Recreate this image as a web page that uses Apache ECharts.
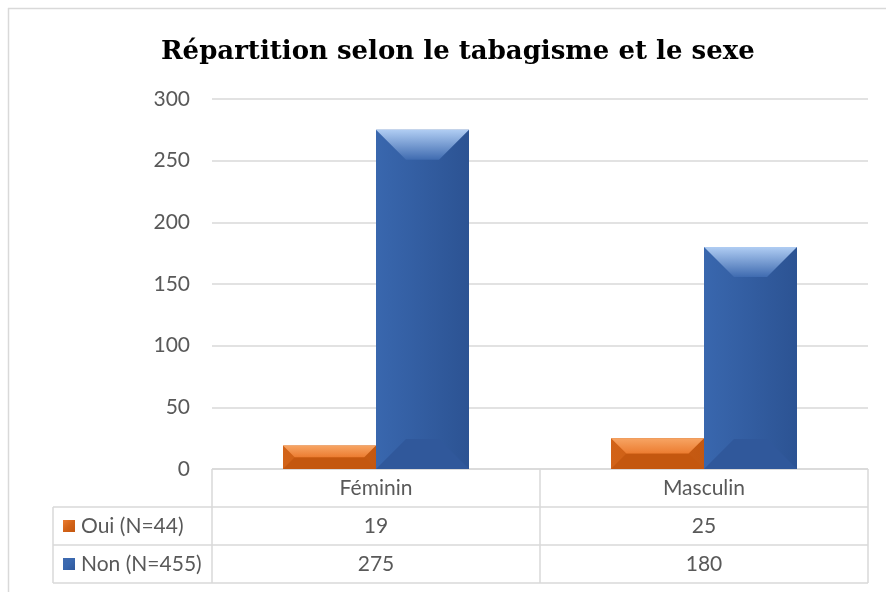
<!DOCTYPE html>
<html>
<head>
<meta charset="utf-8">
<title>Répartition selon le tabagisme et le sexe</title>
<script src="https://cdn.jsdelivr.net/npm/echarts@6/dist/echarts.min.js"></script>
<style>
  html, body { margin: 0; padding: 0; background: #fff; }
  #main { width: 886px; height: 592px; }
</style>
</head>
<body>
<div id="main"></div>
<script>
// données
const categories = ['Féminin', 'Masculin'];
const seriesNames = ['Oui (N=44)', 'Non (N=455)'];
const oui = [19, 25];
const non = [275, 180];
const yTicks = [0, 50, 100, 150, 200, 250, 300];

const FONT = 'Lato';
const TXT = '#595959';
const LINE = '#d9d9d9';
const FS = 21;

// couleurs des barres biseautées
const palettes = [
  { left: '#d26318', right: '#c35811', top: ['#f7a564', '#ec7c30'], bottom: '#c4570f' },
  { left: '#3967ae', right: '#2c5393', top: ['#b0cdf3', '#3f6bb0'], bottom: '#30589b' }
];

const grid = { left: 212, right: 18, top: 99, bottom: 123 };
const barFrac = 93 / 328;

function bevelBar(params, api) {
  const cat = api.value(0);
  const val = api.value(1);
  const base = api.coord([cat, 0]);
  const top = api.coord([cat, val]);
  const band = api.size([1, 0])[0];
  const w = band * barFrac;
  const x0 = params.seriesIndex === 0 ? base[0] - w : base[0];
  const x1 = x0 + w;
  const y0 = top[1];
  const y1 = base[1];
  const d = Math.min(30, w / 3, (y1 - y0) / 2);
  const p = palettes[params.seriesIndex];
  return {
    type: 'group',
    children: [
      {
        type: 'rect', shape: { x: x0, y: y0, width: w, height: y1 - y0 },
        style: {
          fill: new echarts.graphic.LinearGradient(0, 0, 1, 0, [
            { offset: 0, color: p.left }, { offset: 1, color: p.right }
          ])
        }
      },
      { type: 'polygon', shape: { points: [[x0, y1], [x1, y1], [x1 - d, y1 - d], [x0 + d, y1 - d]] }, style: { fill: p.bottom } },
      {
        type: 'polygon',
        shape: { points: [[x0, y0], [x1, y0], [x1 - d, y0 + d], [x0 + d, y0 + d]] },
        style: {
          fill: new echarts.graphic.LinearGradient(0, 0, 0, 1, [
            { offset: 0, color: p.top[0] },
            { offset: 1, color: p.top[1] }
          ])
        }
      }
    ]
  };
}

const chart = echarts.init(document.getElementById('main'));

chart.setOption({
  backgroundColor: '#fff',
  animation: false,
  title: {
    text: 'Répartition selon le tabagisme et le sexe',
    left: 156,
    top: 34,
    textStyle: { fontFamily: 'DejaVu Serif', fontWeight: 'bold', fontSize: 26, color: '#000' }
  },
  grid: grid,
  xAxis: {
    type: 'category',
    data: categories,
    axisLine: { show: false },
    axisTick: { show: false },
    axisLabel: { show: false }
  },
  yAxis: {
    type: 'value',
    min: yTicks[0],
    max: yTicks[yTicks.length - 1],
    interval: yTicks[1] - yTicks[0],
    axisLine: { show: false },
    axisTick: { show: false },
    axisLabel: { color: TXT, fontFamily: FONT, fontSize: FS, margin: 22 },
    splitLine: { lineStyle: { color: LINE, width: 1.5 } }
  },
  series: [
    { name: seriesNames[0], type: 'custom', renderItem: bevelBar, encode: { x: 0, y: 1 }, data: oui.map((v, i) => [i, v]) },
    { name: seriesNames[1], type: 'custom', renderItem: bevelBar, encode: { x: 0, y: 1 }, data: non.map((v, i) => [i, v]) }
  ]
});

// tableau de données sous le graphique
const W = 886, H = 592;
const xL = grid.left, xR = W - grid.right, yT = H - grid.bottom;
const rowH = 38;
const legX = 53;
const centers = categories.map((c, i) => chart.convertToPixel({ xAxisIndex: 0 }, i));
const rows = [oui, non];
const g = [];

function hline(y, a, b) {
  g.push({ type: 'line', shape: { x1: a, y1: y, x2: b, y2: y }, style: { stroke: LINE, lineWidth: 1.5 } });
}
function vline(x, a, b) {
  g.push({ type: 'line', shape: { x1: x, y1: a, x2: x, y2: b }, style: { stroke: LINE, lineWidth: 1.5 } });
}

// cadre extérieur
hline(8.5, 8, W);
vline(8.5, 8, H);

hline(yT, xL, xR);
for (let r = 1; r <= rows.length + 1; r++) hline(yT + r * rowH, legX, xR);
vline(legX, yT + rowH, yT + (rows.length + 1) * rowH);
vline(xL, yT, yT + (rows.length + 1) * rowH);
for (let i = 0; i < centers.length - 1; i++) vline((centers[i] + centers[i + 1]) / 2, yT, yT + (rows.length + 1) * rowH);
vline(xR, yT, yT + (rows.length + 1) * rowH);

categories.forEach((c, i) => {
  g.push({ type: 'text', x: centers[i], y: yT + rowH / 2, style: { text: c, fill: TXT, font: FS + 'px ' + FONT, textAlign: 'center', textVerticalAlign: 'middle' } });
});
rows.forEach((vals, r) => {
  const cy = yT + (r + 1.5) * rowH;
  const p = palettes[r];
  g.push({
    type: 'rect', shape: { x: 63, y: cy - 6, width: 12, height: 12 },
    style: {
      fill: new echarts.graphic.LinearGradient(0, 0, 1, 1, [
        { offset: 0, color: p.top[1] }, { offset: 0.5, color: p.left }, { offset: 1, color: p.bottom }
      ])
    }
  });
  g.push({ type: 'text', x: 81, y: cy, style: { text: seriesNames[r], fill: TXT, font: FS + 'px ' + FONT, textVerticalAlign: 'middle' } });
  vals.forEach((v, i) => {
    g.push({ type: 'text', x: centers[i], y: cy, style: { text: String(v), fill: TXT, font: FS + 'px ' + FONT, textAlign: 'center', textVerticalAlign: 'middle' } });
  });
});

chart.setOption({ graphic: { elements: g } });
</script>
</body>
</html>
